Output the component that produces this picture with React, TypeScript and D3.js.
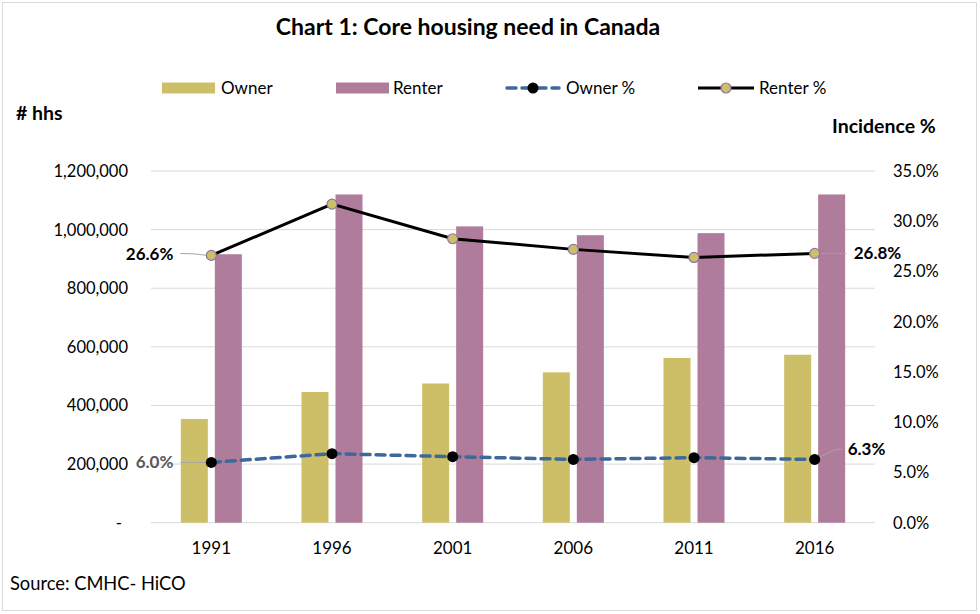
import React from "react";
import * as d3 from "d3";

const years = ["1991", "1996", "2001", "2006", "2011", "2016"];
const ownerHouseholds = [354000, 446000, 475000, 513000, 562000, 573000];
const renterHouseholds = [916000, 1120000, 1011000, 981000, 988000, 1120000];
const ownerPct = [0.06, 0.0687, 0.0657, 0.063, 0.0647, 0.063];
const renterPct = [0.266, 0.317, 0.2826, 0.272, 0.264, 0.268];
const leftTicks = [0, 200000, 400000, 600000, 800000, 1000000, 1200000];
const rightTicks = [0, 0.05, 0.1, 0.15, 0.2, 0.25, 0.3, 0.35];
const seriesNames = ["Owner", "Renter"];

const FONT = "Lato, 'Open Sans', sans-serif";
const OWNER_COLOR = "#cdbf68";
const RENTER_COLOR = "#b07c9b";
const OWNER_LINE = "#3e6899";

export default function App() {
  const W = 980, H = 614;
  const left = 151, right = 875, top = 171, bottom = 522.7;

  const x = d3.scaleBand<string>().domain(years).range([left, right]);
  const cx = (y: string) => (x(y) as number) + x.bandwidth() / 2;
  const xi = d3
    .scaleBand<string>()
    .domain(seriesNames)
    .range([-30.5, 30.5])
    .paddingInner(0.206);
  const yL = d3.scaleLinear().domain([0, 1200000]).range([bottom, top]);
  const yR = d3.scaleLinear().domain([0, 0.35]).range([bottom, top]);

  const line = d3
    .line<number>()
    .x((_, i) => cx(years[i]))
    .y((d) => yR(d));

  const fmtL = (v: number) => (v === 0 ? "-" : d3.format(",")(v));
  const fmtR = d3.format(".1%");

  const last = years.length - 1;

  return (
    <svg
      width={W}
      height={H}
      style={{ position: "absolute", left: 0, top: 0, background: "#fff" }}
      fontFamily={FONT}
    >
      <rect x={2.5} y={2.5} width={974} height={608} fill="#fff" stroke="#d9d9d9" strokeWidth={1} />
      <text x={468} y={35} textAnchor="middle" fontSize={23} fontWeight={700} fill="#000">
        Chart 1: Core housing need in Canada
      </text>

      {/* Legend */}
      <g fontSize={17} fill="#000">
        <rect x={162} y={82.5} width={53} height={11} fill={OWNER_COLOR} />
        <text x={221} y={94}>Owner</text>
        <rect x={336} y={82.5} width={53} height={11} fill={RENTER_COLOR} />
        <text x={393} y={94}>Renter</text>
        <line x1={507} x2={559} y1={88} y2={88} stroke={OWNER_LINE} strokeWidth={3.5} strokeDasharray="9,6" strokeLinecap="round" />
        <circle cx={533} cy={88} r={5.5} fill="#000" />
        <text x={566} y={94}>Owner %</text>
        <line x1={698} x2={754} y1={88} y2={88} stroke="#000" strokeWidth={3} />
        <circle cx={726} cy={88} r={5} fill={OWNER_COLOR} stroke="#8e72a8" strokeWidth={1.2} />
        <text x={759} y={94}>Renter %</text>
      </g>

      <text x={16} y={120} fontSize={19.5} fontWeight={700}># hhs</text>
      <text x={832} y={133} fontSize={19.5} fontWeight={700}>Incidence %</text>

      {/* Gridlines */}
      {leftTicks.map((t) => (
        <line key={t} x1={left} x2={right} y1={yL(t)} y2={yL(t)} stroke="#d9d9d9" strokeWidth={1} />
      ))}

      {/* Left axis labels */}
      <g fontSize={16.5} fill="#000" textAnchor="end">
        {leftTicks.map((t) => (
          <text key={t} x={t === 0 ? 122 : 128} y={yL(t) + 6}>{fmtL(t)}</text>
        ))}
      </g>
      {/* Right axis labels */}
      <g fontSize={16.5} fill="#000" textAnchor="start">
        {rightTicks.map((t) => (
          <text key={t} x={893} y={yR(t) + 6}>{fmtR(t)}</text>
        ))}
      </g>
      {/* X labels */}
      <g fontSize={17} fill="#000" textAnchor="middle">
        {years.map((y) => (
          <text key={y} x={cx(y)} y={554}>{y}</text>
        ))}
      </g>

      {/* Bars */}
      {years.map((y, i) => (
        <g key={y}>
          <rect
            x={cx(y) + (xi("Owner") as number)}
            y={yL(ownerHouseholds[i])}
            width={xi.bandwidth()}
            height={yL(0) - yL(ownerHouseholds[i])}
            fill={OWNER_COLOR}
          />
          <rect
            x={cx(y) + (xi("Renter") as number)}
            y={yL(renterHouseholds[i])}
            width={xi.bandwidth()}
            height={yL(0) - yL(renterHouseholds[i])}
            fill={RENTER_COLOR}
          />
        </g>
      ))}

      {/* Leader lines */}
      <path d={`M${cx(years[0]) - 31},${yR(renterPct[0]) - 2} Q${cx(years[0]) - 15},${yR(renterPct[0]) - 2} ${cx(years[0]) - 4},${yR(renterPct[0])}`} fill="none" stroke="#a6a6a6" strokeWidth={1} />
      <line x1={cx(years[0]) - 31} x2={cx(years[0]) - 4} y1={yR(ownerPct[0])} y2={yR(ownerPct[0])} stroke="#a6a6a6" strokeWidth={1} />
      <line x1={cx(years[last]) + 4} x2={cx(years[last]) + 32} y1={yR(renterPct[last])} y2={yR(renterPct[last])} stroke="#a6a6a6" strokeWidth={1} strokeDasharray="2,1" />
      <polyline
        points={`${cx(years[last]) + 4},${yR(ownerPct[last]) - 2} ${cx(years[last]) + 21},${yR(ownerPct[last]) - 10} ${cx(years[last]) + 28},${yR(ownerPct[last]) - 10}`}
        fill="none"
        stroke="#a6a6a6"
        strokeWidth={1}
      />

      {/* Lines */}
      <path d={line(ownerPct) || ""} fill="none" stroke={OWNER_LINE} strokeWidth={3.5} strokeDasharray="9,6" strokeLinecap="round" />
      <path d={line(renterPct) || ""} fill="none" stroke="#000" strokeWidth={3} />
      {ownerPct.map((v, i) => (
        <circle key={i} cx={cx(years[i])} cy={yR(v)} r={5.5} fill="#000" />
      ))}
      {renterPct.map((v, i) => (
        <circle key={i} cx={cx(years[i])} cy={yR(v)} r={5} fill={OWNER_COLOR} stroke="#8e72a8" strokeWidth={1.2} />
      ))}

      {/* Data labels */}
      <g fontSize={17} fontWeight={700}>
        <text x={cx(years[0]) - 38} y={yR(renterPct[0]) + 5} textAnchor="end" fill="#000">{fmtR(renterPct[0])}</text>
        <text x={cx(years[0]) - 38} y={yR(ownerPct[0]) + 6} textAnchor="end" fill="#595959">{fmtR(ownerPct[0])}</text>
        <text x={cx(years[last]) + 39} y={yR(renterPct[last]) + 6} textAnchor="start" fill="#000">{fmtR(renterPct[last])}</text>
        <text x={cx(years[last]) + 33} y={yR(ownerPct[last]) - 4} textAnchor="start" fill="#000">{fmtR(ownerPct[last])}</text>
      </g>

      <text x={10} y={590} fontSize={18.3} fill="#000">Source: CMHC- HiCO</text>
    </svg>
  );
}
